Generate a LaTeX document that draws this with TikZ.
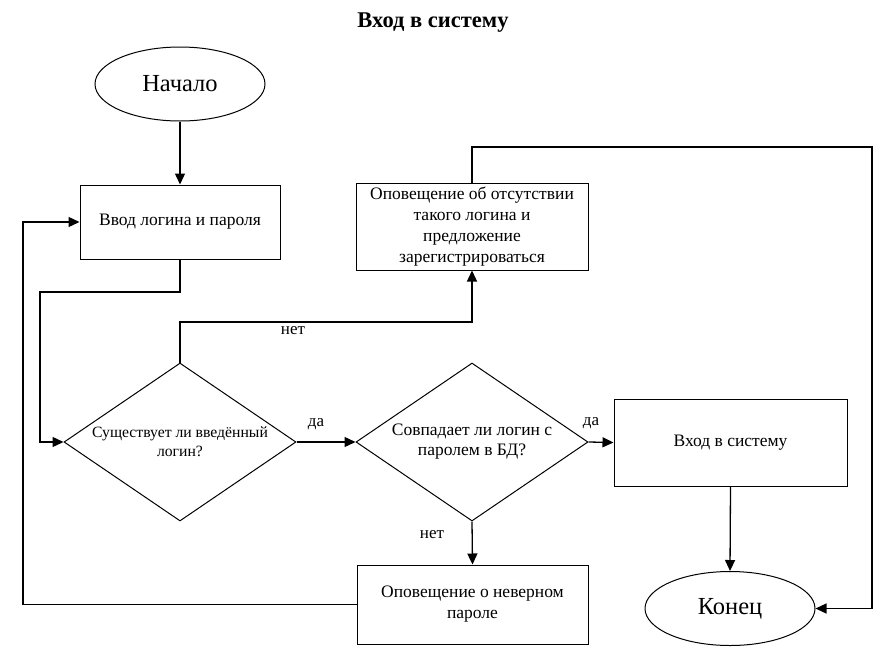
\documentclass[tikz,border=0pt]{standalone}
\usepackage{fontspec}
\setmainfont{Liberation Serif}
\usepackage{tikz}
\usetikzlibrary{shapes.geometric, arrows.meta}

\tikzset{
	block/.style = {draw, line width=1pt, rectangle, align=center, inner sep=0pt, font=\fontsize{17.5}{21}\selectfont},
	term/.style = {draw, line width=1pt, ellipse, minimum width=170pt, minimum height=74pt, inner sep=0pt, font=\fontsize{24.5}{28}\selectfont},
	cond/.style = {draw, line width=1pt, diamond, aspect=1.47, minimum width=232pt, minimum height=158pt, inner sep=0pt, align=center},
	flow/.style = {line width=1.3pt, -{Triangle[length=11pt, width=10pt]}},
	lbl/.style = {inner sep=0pt, font=\fontsize{17}{20}\selectfont}
}

\begin{document}
\begin{tikzpicture}[x=1pt, y=-1pt]
	\useasboundingbox (0,0) rectangle (885,667);

	\node (title) at (433,23) {\fontsize{22.5}{27}\selectfont\bfseries Вход в систему};

	\node [term] (start) at (180,84) {Начало};
	\node [block, minimum width=200pt, minimum height=74pt] (login) at (180,222) {Ввод логина и пароля};
	\node [block, minimum width=232pt, minimum height=87pt] (absent) at (472,226.5) {Оповещение об отсутствии\\такого логина и\\предложение\\зарегистрироваться};
	\node [cond, font=\fontsize{15.7}{19}\selectfont] (exists) at (180,442) {Существует ли введённый\\логин?};
	\node [cond, font=\fontsize{17.5}{20}\selectfont] (match) at (472,442) {Совпадает ли логин с\\паролем в БД?};
	\node [block, minimum width=233pt, minimum height=87pt] (enter) at (730.5,442.5) {Вход в систему};
	\node [block, minimum width=231pt, minimum height=79pt] (wrong) at (472.5,604.5) {Оповещение о неверном\\пароле};
	\node [term] (finish) at (730,608.5) {Конец};

	\coordinate (lgdrop) at (40,292);
	\coordinate (nobend) at (180,322);
	\coordinate (topright) at (872,147);
	\coordinate (botleft) at (23,222);

	\draw [flow] (start) -- (login);
	\draw [flow] (login.south) |- (lgdrop) |- (exists.west);
	\draw [flow] (exists.north) -- (nobend) -| (absent.south);
	\draw [flow] (exists.east) -- (match.west);
	\draw [flow] (match.east) -- (enter.west);
	\draw [flow] (match.south) -- (wrong.north);
	\draw [flow] (enter.south) -- (finish.north);
	\draw [flow] (absent.north) |- (topright) |- (finish.east);
	\draw [flow] (wrong.west) -| (botleft) -- (login.west);

	\node [lbl] (no1) at (293,331) {нет};
	\node [lbl] (yes1) at (316,424) {да};
	\node [lbl] (yes2) at (591,423) {да};
	\node [lbl] (no2) at (432,535) {нет};
\end{tikzpicture}
\end{document}
